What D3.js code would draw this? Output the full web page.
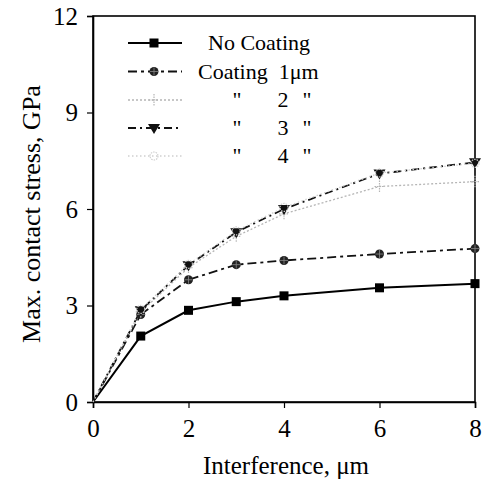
<!DOCTYPE html>
<html lang="en">
<head>
<meta charset="UTF-8">
<title>Max. contact stress vs interference</title>
<script src="https://d3js.org/d3.v7.min.js"></script>
<style>
  body { margin: 0; background: white; }
  svg text { font-family: "Liberation Serif", "Times New Roman", serif; fill: #000; }
</style>
</head>
<body>
<div id="chart"></div>
<script>
// interference, um
const interference = [0, 1, 2, 3, 4, 6, 8];

// max contact stress, GPa
const noCoating = [0, 2.05, 2.85, 3.12, 3.3, 3.55, 3.68];
const coating1  = [0, 2.72, 3.8, 4.27, 4.4, 4.6, 4.77];
const coating2  = [0, 2.8, 4.18, 5.15, 5.85, 6.7, 6.85];
const coating3  = [0, 2.85, 4.25, 5.28, 6.0, 7.1, 7.45];
const coating4  = [0, 2.88, 4.28, 5.32, 6.05, 7.12, 7.42];

const seriesNames = ["No Coating", "Coating 1\u03bcm", "2", "3", "4"];
const xTicks = [0, 2, 4, 6, 8];
const yTicks = [0, 3, 6, 9, 12];

const width = 487, height = 480;
const serif = "'Liberation Serif', 'Times New Roman', serif";
const svg = d3.select("#chart").append("svg")
    .attr("width", width).attr("height", height)
    .attr("font-family", serif);

const x = d3.scaleLinear().domain([0, 8]).range([93, 475]);
const y = d3.scaleLinear().domain([0, 12]).range([402, 16]);

// series styles
const series = [
  { name: seriesNames[0], values: noCoating, color: "#000", dash: null, width: 2, marker: "square" },
  { name: seriesNames[1], values: coating1, color: "#111", dash: "9,4,3,4", width: 1.8, marker: "circle" },
  { name: seriesNames[2], values: coating2, color: "#b5b5b5", dash: "2,2", width: 1.3, marker: "cross" },
  { name: seriesNames[3], values: coating3, color: "#111", dash: "8,4,2,4", width: 1.8, marker: "triangle" },
  { name: seriesNames[4], values: coating4, color: "#cfcfcf", dash: "1.5,2.5", width: 1.3, marker: "ring" }
];

function drawMarker(g, type, cx, cy, color) {
  if (type === "square") {
    g.append("rect").attr("x", cx - 4.5).attr("y", cy - 4.5)
      .attr("width", 9).attr("height", 9).attr("fill", color);
  } else if (type === "circle") {
    g.append("circle").attr("cx", cx).attr("cy", cy).attr("r", 4.5).attr("fill", "#222");
    g.append("path").attr("d", `M${cx - 4},${cy}H${cx + 4}M${cx},${cy - 4}V${cy + 4}`)
      .attr("stroke", "#888").attr("stroke-width", 0.8);
  } else if (type === "cross") {
    g.append("path").attr("d", `M${cx - 5},${cy}H${cx + 5}M${cx},${cy - 6}V${cy + 6}`)
      .attr("stroke", color).attr("stroke-width", 1.2).attr("stroke-dasharray", "1.5,1");
  } else if (type === "triangle") {
    g.append("path").attr("d", `M${cx - 6},${cy - 4}L${cx + 6},${cy - 4}L${cx},${cy + 6}Z`)
      .attr("fill", color);
  } else if (type === "ring") {
    g.append("circle").attr("cx", cx).attr("cy", cy).attr("r", 4)
      .attr("fill", "none").attr("stroke", color).attr("stroke-width", 1.2)
      .attr("stroke-dasharray", "1.5,1");
  }
}

// frame
svg.append("rect")
    .attr("x", x(0)).attr("y", y(12))
    .attr("width", x(8) - x(0)).attr("height", y(0) - y(12))
    .attr("fill", "none").attr("stroke", "#000").attr("stroke-width", 1.6);

// axes
const xAxis = svg.append("g")
    .attr("transform", `translate(0,${y(0)})`)
    .call(d3.axisBottom(x).tickValues(xTicks).tickSize(6).tickPadding(11).tickFormat(d3.format("d")));
const yAxis = svg.append("g")
    .attr("transform", `translate(${x(0)},0)`)
    .call(d3.axisLeft(y).tickValues(yTicks).tickSize(6).tickPadding(9).tickFormat(d3.format("d")));

[xAxis, yAxis].forEach(a => {
  a.attr("font-family", serif).attr("font-size", 25);
  a.select(".domain").attr("stroke", "#000").attr("stroke-width", 1.6);
  a.selectAll(".tick line").attr("stroke", "#000").attr("stroke-width", 1.2);
  a.selectAll(".tick text").attr("fill", "#000");
});

// lines
const line = d3.line()
    .x((d, i) => x(interference[i]))
    .y(d => y(d));

const plot = svg.append("g");
series.forEach(s => {
  plot.append("path")
      .datum(s.values)
      .attr("d", line)
      .attr("fill", "none")
      .attr("stroke", s.color)
      .attr("stroke-width", s.width)
      .attr("stroke-dasharray", s.dash);
});
series.forEach(s => {
  const g = plot.append("g");
  s.values.forEach((v, i) => {
    if (i === 0) return;
    drawMarker(g, s.marker, x(interference[i]), y(v), s.color);
  });
});

// legend
const legendRows = [43, 71.5, 100, 128, 156];
const legend = svg.append("g");
series.forEach((s, i) => {
  const ly = legendRows[i];
  legend.append("line")
      .attr("x1", 128).attr("x2", 182).attr("y1", ly).attr("y2", ly)
      .attr("stroke", s.color).attr("stroke-width", s.width)
      .attr("stroke-dasharray", s.dash);
  drawMarker(legend, s.marker, 154, ly, s.color);
});
legend.append("text").attr("x", 208).attr("y", legendRows[0] + 7)
    .style("font-size", "22px").text(seriesNames[0]);
legend.append("text").attr("x", 198).attr("y", legendRows[1] + 7)
    .style("font-size", "22px").attr("xml:space", "preserve").text("Coating  1\u03bcm");
[2, 3, 4].forEach(i => {
  const ly = legendRows[i] + 7;
  legend.append("text").attr("x", 237).attr("y", ly).attr("text-anchor", "middle")
      .style("font-size", "22px").text("\"");
  legend.append("text").attr("x", 283).attr("y", ly).attr("text-anchor", "middle")
      .style("font-size", "22px").text(seriesNames[i]);
  legend.append("text").attr("x", 307).attr("y", ly).attr("text-anchor", "middle")
      .style("font-size", "22px").text("\"");
});

// axis titles
svg.append("text")
    .attr("x", 286).attr("y", 474)
    .attr("text-anchor", "middle")
    .style("font-size", "25px")
    .text("Interference, \u03bcm");
svg.append("text")
    .attr("transform", "translate(40,214) rotate(-90)")
    .attr("text-anchor", "middle")
    .style("font-size", "26px")
    .text("Max. contact stress, GPa");
</script>
</body>
</html>
